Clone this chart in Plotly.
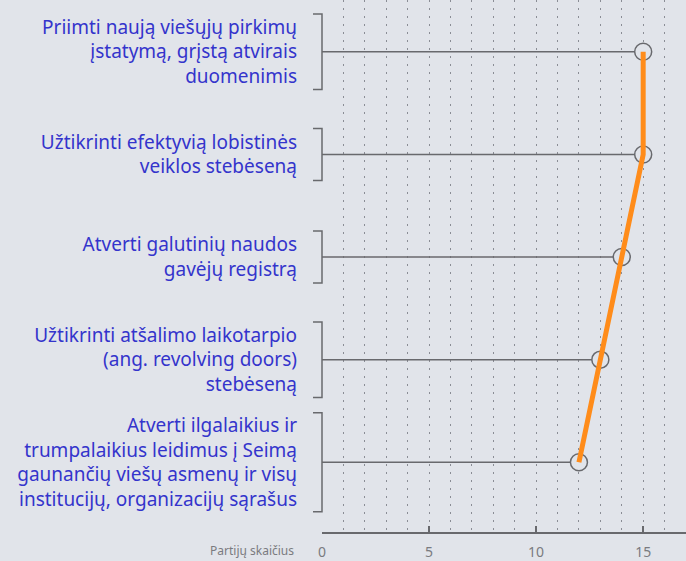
import plotly.graph_objects as go

categories = [
    "Priimti naują viešųjų pirkimų<br>įstatymą, grįstą atvirais<br>duomenimis",
    "Užtikrinti efektyvią lobistinės<br>veiklos stebėseną",
    "Atverti galutinių naudos<br>gavėjų registrą",
    "Užtikrinti atšalimo laikotarpio<br>(ang. revolving doors)<br>stebėseną",
    "Atverti ilgalaikius ir<br>trumpalaikius leidimus į Seimą<br>gaunančių viešų asmenų ir visų<br>institucijų, organizacijų sąrašus",
]
values = [15, 15, 14, 13, 12]
x_tick_vals = [0, 5, 10, 15]
x_title = "Partijų skaičius"

BG = "#e1e4ea"
GRAY = "#68696d"
ORANGE = "#ff8c1a"
BLUE = "#3434cc"
FONT = "Noto Sans"

pos = list(range(len(categories)))

fig = go.Figure()

# stems
sx, sy = [], []
for p, v in zip(pos, values):
    sx += [0, v, None]
    sy += [p, p, None]
fig.add_trace(go.Scatter(x=sx, y=sy, mode="lines",
                         line=dict(color=GRAY, width=1.5),
                         hoverinfo="skip", showlegend=False))

# markers
fig.add_trace(go.Scatter(x=values, y=pos, mode="markers",
                         marker=dict(symbol="circle", size=17, color=BG,
                                     line=dict(color=GRAY, width=1.5)),
                         showlegend=False))

# orange connecting line
fig.add_trace(go.Scatter(x=values, y=pos, mode="lines",
                         line=dict(color=ORANGE, width=5),
                         showlegend=False))

# brackets around label blocks
shapes = []
for p, c in zip(pos, categories):
    nlines = c.count("<br>") + 1
    h = (nlines * 23.5 + 5) / 2
    shapes.append(dict(
        type="path", xref="paper", yref="y",
        xsizemode="pixel", ysizemode="pixel",
        xanchor=0, yanchor=p,
        path=f"M -9,{h} L 0,{h} L 0,{-h} L -9,{-h}",
        line=dict(color=GRAY, width=1.5),
    ))

fig.update_layout(
    width=686, height=561,
    paper_bgcolor=BG, plot_bgcolor=BG,
    margin=dict(l=322, r=0, t=0, b=26),
    shapes=shapes,
    showlegend=False,
    font=dict(family=FONT),
    xaxis=dict(
        range=[0, 17], tickvals=x_tick_vals,
        showgrid=True, gridcolor="#8a8d95", gridwidth=1, griddash="1.5px,6.5px",
        minor=dict(dtick=1, tick0=0, showgrid=True, gridcolor="#8a8d95",
                   gridwidth=1, griddash="1.5px,6.5px"),
        showline=True, linecolor=GRAY, linewidth=1.5,
        ticks="inside", ticklen=6, tickcolor=GRAY, tickwidth=1.5,
        tickfont=dict(size=14, color="#7a7b80", family=FONT),
        ticklabelstandoff=6,
        zeroline=False,
    ),
    yaxis=dict(
        range=[4.68, -0.505], tickvals=pos, ticktext=categories,
        showgrid=False, zeroline=False, showline=False, ticks="",
        tickfont=dict(size=19, color=BLUE, family=FONT),
        ticklabelstandoff=24,
    ),
    annotations=[dict(
        text=x_title, xref="paper", yref="paper", x=0, y=0,
        xanchor="right", yanchor="middle", xshift=-26, yshift=-18,
        showarrow=False, font=dict(size=12, color="#7a7b80", family=FONT),
    )],
)

fig.write_html("out.html", config={"displayModeBar": False},
               post_script="document.body.style.margin='0';document.body.style.overflow='hidden';")
